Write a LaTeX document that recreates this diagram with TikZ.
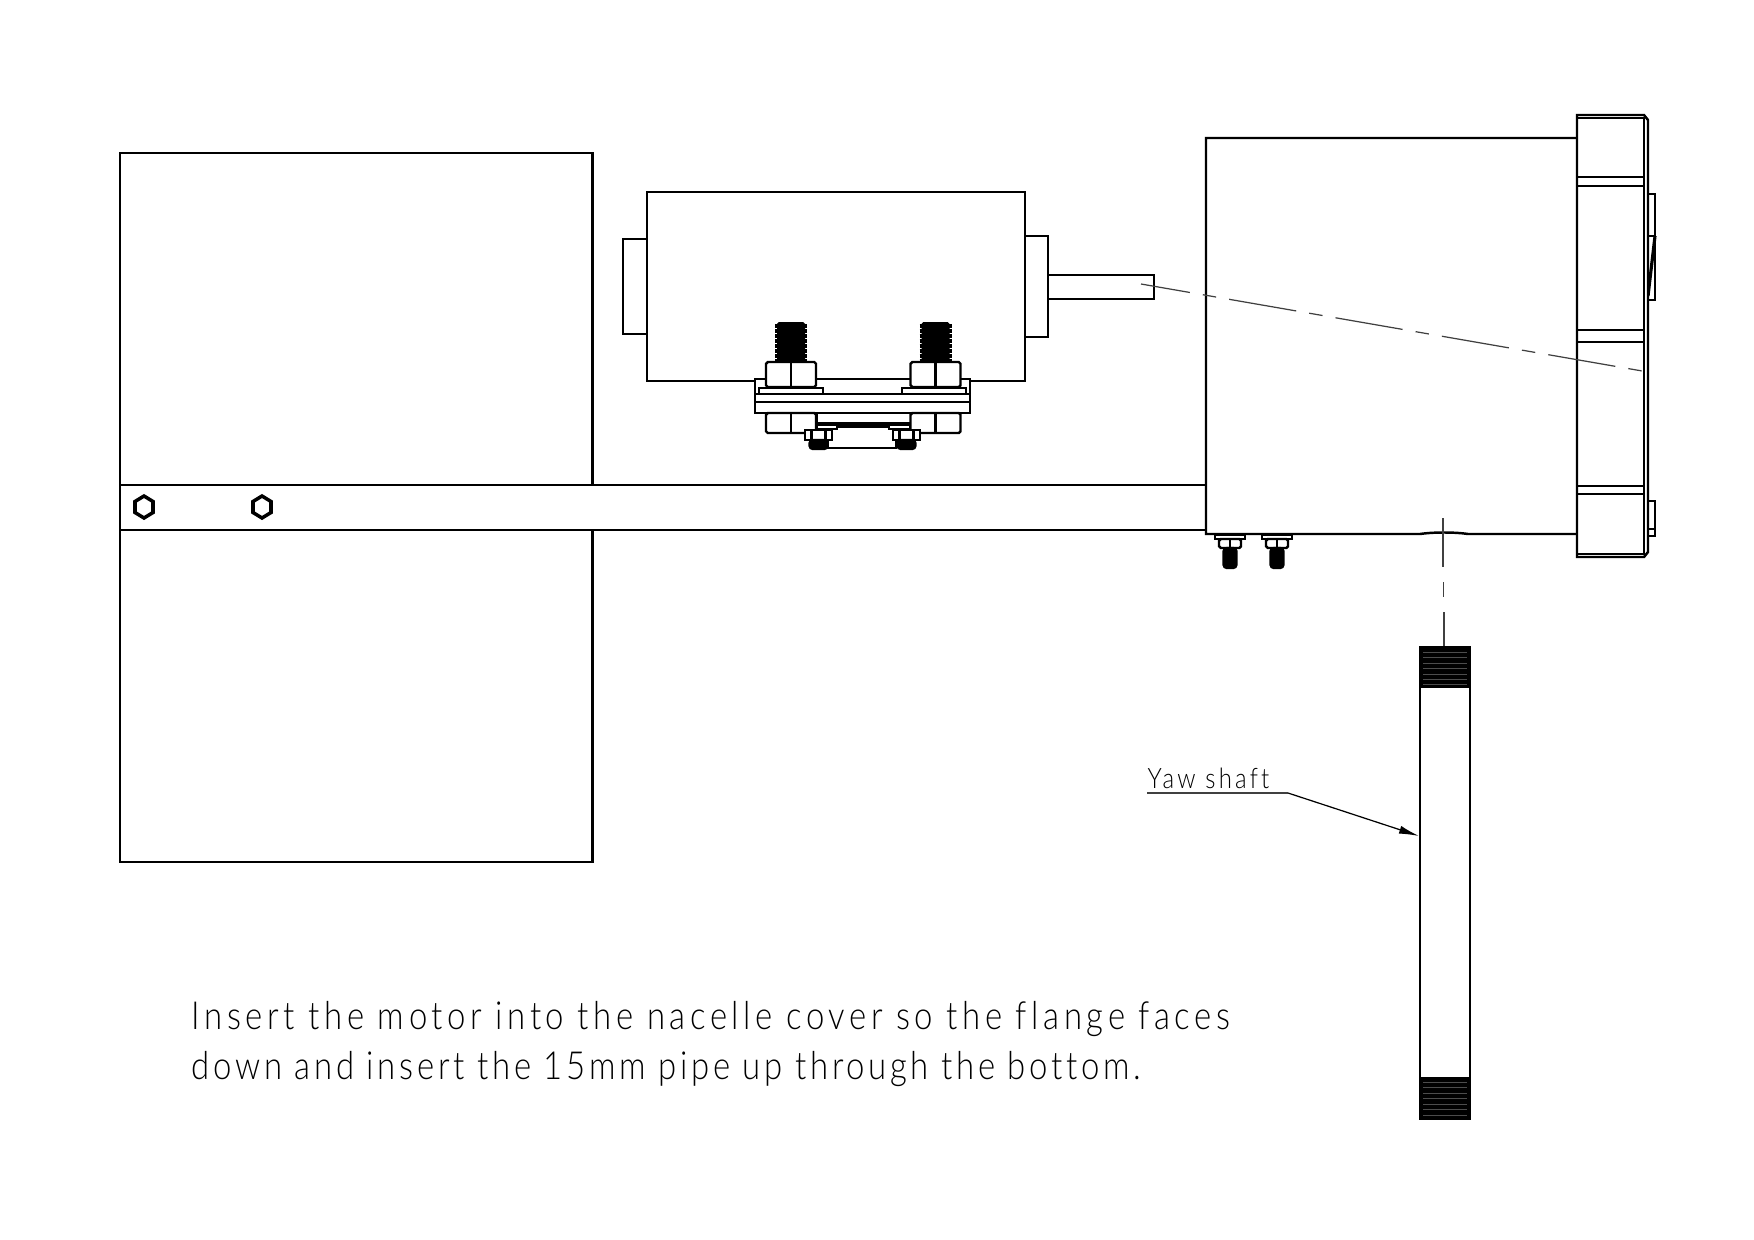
\documentclass[tikz,border=0pt]{standalone}
\usepackage{fontspec}
\setmainfont[UprightFont=* Light,LetterSpace=11.6,FakeStretch=0.85,Ligatures=NoCommon]{Lato}
\newfontfamily\smallfont[UprightFont=* Light,LetterSpace=11.5,FakeStretch=0.85,Ligatures=NoCommon]{Lato}
\usetikzlibrary{arrows.meta}

\begin{document}
\begin{tikzpicture}[x=0.01cm,y=-0.01cm,
part/.style={draw, line width=0.7pt, fill=white},
thin part/.style={draw, line width=0.35pt},
centre/.style={draw=black!75, line width=0.35pt},
solid part/.style={draw, fill=black, line width=0.7pt},
caption/.style={anchor=base west, inner sep=0pt, font=\fontsize{11}{13}\selectfont},
tag/.style={anchor=base west, inner sep=0pt, font=\smallfont\fontsize{8}{10}\selectfont}
]
\useasboundingbox (0,0) rectangle (1754,1239);
% blades
\draw[part] (120,153) rectangle (592.5,862);
\draw[part] (120,485) rectangle (1206,530);
\foreach \x in {144,262}
  \draw[line width=1pt] (\x,496) -- (\x+9,501.5) -- (\x+9,512.5) -- (\x,518) -- (\x-9,512.5) -- (\x-9,501.5) -- cycle;
% motor
\draw[part] (623,239) rectangle (647,334);
\draw[part] (1025,236) rectangle (1048,337);
\draw[part] (1048,275) rectangle (1154,299);
\draw[part] (647,192) rectangle (1025,381);
% clamp
\draw[part] (755,379) rectangle (970,413);
\draw[part] (755,394) -- (970,394);
\draw[part] (755,402) -- (970,402);
\draw[part] (817,413) rectangle (911,423);
\draw[part] (759,388) rectangle (823,394);
\draw[part] (902,388) rectangle (966,394);
% motor bolts
\foreach \x in {791,935.5}{
  \foreach \y in {326,331,336,341,346,351,356,361}
    \draw[line width=1.3pt] (\x-16,\y) -- (\x+16,\y);
  \fill[rounded corners=0.5pt] (\x-14,322) rectangle (\x+14,362);
  \draw[part, rounded corners=0.5pt] (\x-25,362) rectangle (\x+25,387);
  \draw[part] (\x,362) -- (\x,387);
  \draw[part, rounded corners=0.5pt] (\x-25,413) rectangle (\x+25,433);
  \draw[part] (\x,413) -- (\x,433);
}
% bearing foot
\draw[part] (828,428) -- (828,448) -- (896,448) -- (896,428);
\draw[line width=1.1pt] (837,426) -- (889,426);
\draw[part] (817,425) rectangle (837,429);
\draw[part] (889,425) rectangle (910,429);
\foreach \x in {818.5,906.5}{
  \draw[part] (\x-13.5,430) rectangle (\x+13.5,440);
  \draw[part] (\x-7,430) rectangle (\x+7,440);
  \draw[solid part, rounded corners=1pt] (\x-9,440) rectangle (\x+9,449);
}
% nacelle cover
\draw[line width=0.7pt] (1576,138) -- (1206,138) -- (1206,534) -- (1420,534) .. controls (1433,532) and (1455,532) .. (1468,534) -- (1576,534);
% flange
\draw[part] (1648,194) rectangle (1655,300);
\draw[thin part] (1648,236) -- (1655,236);
\draw[line width=0.9pt] (1655,236) -- (1648,296);
\draw[part] (1648,501) rectangle (1655,536);
\draw[thin part] (1648,529) -- (1655,529);
\draw[part] (1577,115) -- (1644,115) -- (1648,120) -- (1648,552) -- (1644,557) -- (1577,557) -- cycle;
\draw[thin part] (1577,118) -- (1644,118) -- (1644,554) -- (1577,554);
\draw[part] (1577,177) -- (1644,177) (1577,186) -- (1644,186);
\draw[part] (1577,330) -- (1644,330) (1577,342) -- (1644,342);
\draw[part] (1577,486) -- (1644,486) (1577,494) -- (1644,494);
% cover screws
\foreach \x in {1230,1277}{
  \draw[part] (\x-15,535) rectangle (\x+15,539);
  \draw[part, rounded corners=0.5pt] (\x-11,539) rectangle (\x+11,548);
  \draw[part] (\x,539) -- (\x,548);
  \draw[solid part, rounded corners=1pt] (\x-6.5,548) rectangle (\x+6.5,568);
}
% yaw shaft
\draw[line width=0.8pt] (1420,646) -- (1420,1120) (1470,646) -- (1470,1120);
\fill (1419,646) rectangle (1471,688);
\fill (1419,1077) rectangle (1471,1120);
\foreach \y in {652,657,663,668,674,679,684}
  \draw[black!70, line width=0.2pt] (1423,\y) -- (1467,\y);
\foreach \y in {1082,1087,1093,1098,1104,1109,1115}
  \draw[black!70, line width=0.2pt] (1423,\y) -- (1467,\y);
% centre lines
\draw[centre, dash pattern=on 0.68cm off 0.132cm on 0.135cm off 0.132cm, dash phase=0.185cm] (1141,284) -- (1648,372);
\draw[centre] (1443,518) -- (1443,567);
\draw[centre] (1443.5,582) -- (1443.5,597);
\draw[centre] (1444,612) -- (1444,646);
% labels
\node[tag] (yawlabel) at (1147,788) {Yaw shaft};
\coordinate (yawkink) at (1288,793);
\coordinate (yawtip) at (1419,836);
\draw[centre] (1147,793) -- (yawkink);
\draw[-{Latex[length=2mm,width=0.8mm]}, line width=0.35pt] (yawkink) -- (yawtip);
\node[caption] (captiona) at (191,1029) {\addfontfeature{LetterSpace=11.9}Insert the motor into the nacelle cover so the flange faces};
\node[caption] (captionb) at (191,1079) {\addfontfeature{LetterSpace=9.5}down and insert the 15mm pipe up through the bottom.};
\end{tikzpicture}
\end{document}
